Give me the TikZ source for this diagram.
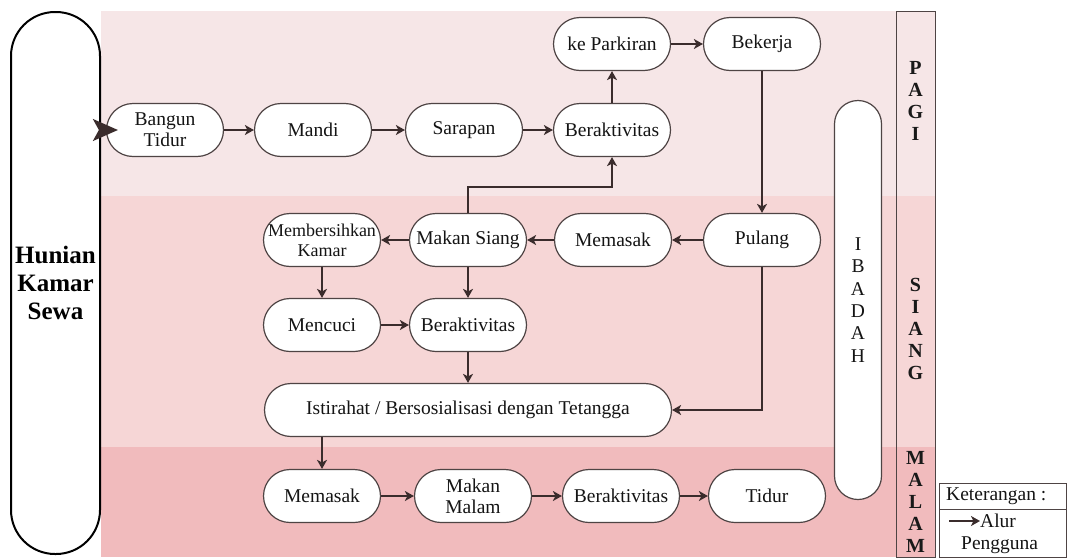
\documentclass[tikz,border=0pt]{standalone}
\usepackage{fontspec}
\setmainfont{Liberation Serif}
\usepackage{tikz}
\usetikzlibrary{arrows.meta}
\usetikzlibrary{positioning}
\definecolor{pagibg}{RGB}{246,230,231}
\definecolor{siangbg}{RGB}{246,214,214}
\definecolor{malambg}{RGB}{241,187,189}
\definecolor{garis}{RGB}{58,44,44}
\definecolor{tepi}{RGB}{78,68,68}

\begin{document}
\begin{tikzpicture}[x=1pt, y=-1pt,
    aktivitas/.style={draw=tepi, line width=1.2pt, fill=white, rounded corners=26.5pt,
      minimum width=117pt, minimum height=53pt, inner sep=0pt, align=center,
      text=black!92, font=\fontsize{19.5}{21}\selectfont},
    alur/.style={draw=garis, line width=2.2pt, -{Stealth[length=9pt,width=10pt,inset=2.5pt]}},
    waktu/.style={align=center, inner sep=0pt, text=black!90, font=\bfseries\fontsize{20}{22}\selectfont},
    teks/.style={inner sep=0pt, text=black!92, font=\fontsize{19.5}{21}\selectfont}]
    \useasboundingbox (0,0) rectangle (1068,557);

    % pagi, siang, malam
    \fill[pagibg] (101,11) rectangle (935,196);
    \fill[siangbg] (101,196) rectangle (935,447);
    \fill[malambg] (101,447) rectangle (935,557);
    \draw[tepi, line width=1pt] (896,11) rectangle (935,557);
    \node[waktu] (pagi) at (915.5,101) {P\\A\\G\\I};
    \node[waktu] (siang) at (915.5,329) {S\\I\\A\\N\\G};
    \node[waktu] (malam) at (915.5,502) {M\\A\\L\\A\\M};

    \node[draw=black, line width=2pt, fill=white, rounded corners=44pt, minimum width=89pt,
      minimum height=542pt, inner sep=0pt, align=center, text=black,
      font=\bfseries\fontsize{25}{28}\selectfont] (hunian) at (55.5,283) {Hunian\\Kamar\\Sewa};
    \node[draw=tepi, line width=1.2pt, fill=white, rounded corners=23.5pt, minimum width=47pt,
      minimum height=399pt, inner sep=0pt, align=center, text=black!92,
      font=\fontsize{19.5}{22.4}\selectfont] (ibadah) at (858,300) {I\\B\\A\\D\\A\\H};

    \node[aktivitas] (bangun) at (165,130) {Bangun\\Tidur};
    \node[aktivitas] (mandi) at (313,130) {Mandi};
    \node[aktivitas] (sarapan) at (464,130) {Sarapan};
    \node[aktivitas] (berak1) at (612,130) {Beraktivitas};
    \node[aktivitas] (parkir) at (612,44) {ke Parkiran};
    \node[aktivitas] (bekerja) at (762,44) {Bekerja};
    \node[aktivitas] (pulang) at (762,240) {Pulang};
    \node[aktivitas] (memasak1) at (613,240) {Memasak};
    \node[aktivitas] (makansiang) at (468,240) {Makan Siang};
    \node[aktivitas, font=\fontsize{18}{20}\selectfont] (bersih) at (322,240) {Membersihkan\\Kamar};
    \node[aktivitas] (mencuci) at (322,325) {Mencuci};
    \node[aktivitas] (berak2) at (468,325) {Beraktivitas};
    \node[aktivitas, minimum width=407pt] (istirahat) at (468,410) {Istirahat / Bersosialisasi dengan Tetangga};
    \node[aktivitas] (memasak2) at (322,496) {Memasak};
    \node[aktivitas] (makanmalam) at (473,496) {Makan\\Malam};
    \node[aktivitas] (berak3) at (621,496) {Beraktivitas};
    \node[aktivitas] (tidur) at (767,496) {Tidur};

    \draw[alur] (bangun) -- (mandi);
    \draw[alur] (mandi) -- (sarapan);
    \draw[alur] (sarapan) -- (berak1);
    \draw[alur] (berak1) -- (parkir);
    \draw[alur] (parkir) -- (bekerja);
    \draw[alur] (bekerja) -- (pulang);
    \draw[alur] (pulang) -- (memasak1);
    \draw[alur] (memasak1) -- (makansiang);
    \draw[alur] (makansiang) -- (bersih);
    \draw[alur] (makansiang.north) -- ++(0,-26) -| (berak1.south);
    \draw[alur] (bersih) -- (mencuci);
    \draw[alur] (mencuci) -- (berak2);
    \draw[alur] (makansiang) -- (berak2);
    \draw[alur] (berak2) -- (istirahat);
    \draw[alur] (pulang.south) |- (istirahat.east);
    \draw[alur] (istirahat.south -| memasak2.north) -- (memasak2.north);
    \draw[alur] (memasak2) -- (makanmalam);
    \draw[alur] (makanmalam) -- (berak3);
    \draw[alur] (berak3) -- (tidur);
    \draw[garis, line width=2pt, -{Stealth[length=25pt,width=22pt,inset=6pt]}]
      (hunian.east |- bangun) -- ([xshift=12pt]bangun.west);

    % keterangan
    \draw[tepi, line width=1pt] (939,483) rectangle (1066,557);
    \draw[tepi, line width=1pt] (939,509) -- (1066,509);
    \node[teks, anchor=west] (ket) at (946,496) {Keterangan :};
    \coordinate (contoh) at (949,521);
    \node[teks, anchor=west] (alurteks) at (980,521) {Alur};
    \node[teks, anchor=west] (pengguna) at (961,545) {Pengguna};
    \draw[alur] (contoh) -- (alurteks.west);
  \end{tikzpicture}
\end{document}
